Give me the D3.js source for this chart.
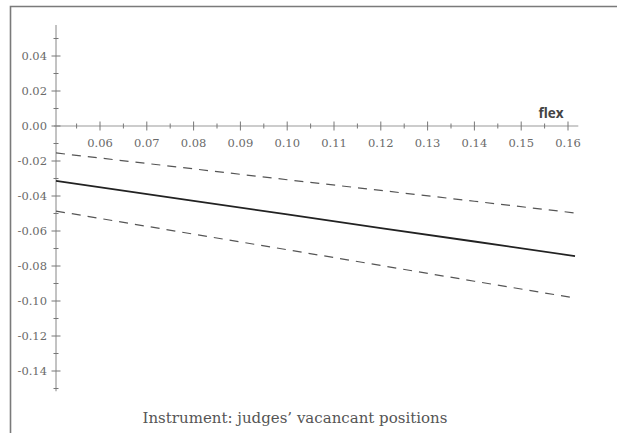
<!DOCTYPE html>
<html>
<head>
<meta charset="utf-8">
<script src="https://cdn.jsdelivr.net/npm/d3@7"></script>
<style>
  body { margin: 0; background: #fff; }
  svg { display: block; }
</style>
</head>
<body>
<div id="container"></div>
<script>
// values
var flexValues = [0.0506, 0.08, 0.10, 0.12, 0.14, 0.1615];
var estimate   = [-0.0314, -0.0428, -0.0505, -0.0583, -0.0660, -0.0743];
var upperBand  = [-0.0154, -0.0245, -0.0307, -0.0368, -0.0430, -0.0497];
var lowerBand  = [-0.0486, -0.0618, -0.0707, -0.0797, -0.0887, -0.0983];
var xTicks = [0.06, 0.07, 0.08, 0.09, 0.10, 0.11, 0.12, 0.13, 0.14, 0.15, 0.16];
var yTicks = [0.04, 0.02, 0.00, -0.02, -0.04, -0.06, -0.08, -0.10, -0.12, -0.14];
var xLabel = "flex";
var caption = "Instrument: judges\u2019 vacancant positions";

var width = 617, height = 433;

var svg = d3.select("#container")
  .append("svg")
    .attr("width", width)
    .attr("height", height);

// frame (top and left edges)
svg.append("path")
  .attr("d", "M10.5," + height + "V6.5H" + width)
  .attr("fill", "none")
  .attr("stroke", "#7a7a7a")
  .attr("stroke-width", 1.6);

// scales
var x = d3.scaleLinear().domain([0.05, 0.16]).range([53.2, 568]);
var y = d3.scaleLinear().domain([0.04, -0.14]).range([56, 371]);

var x0 = x(0.0506), y0 = y(0);

var axisColor = "#9a9a9a", tickColor = "#777";

// x axis line
svg.append("line")
  .attr("x1", x0 - 2).attr("x2", x(0.1622))
  .attr("y1", y0).attr("y2", y0)
  .attr("stroke", axisColor).attr("stroke-width", 1.2);

// y axis line
svg.append("line")
  .attr("x1", x0).attr("x2", x0)
  .attr("y1", y(0.0577)).attr("y2", y(-0.1515))
  .attr("stroke", axisColor).attr("stroke-width", 1.2);

// x ticks (minor every 0.005, major every 0.01)
svg.selectAll(".xminor")
  .data(d3.range(0.055, 0.1625, 0.01))
  .enter().append("line")
    .attr("x1", function(d){ return x(d); }).attr("x2", function(d){ return x(d); })
    .attr("y1", y0 - 2.5).attr("y2", y0 + 2.5)
    .attr("stroke", tickColor).attr("stroke-width", 1);
svg.selectAll(".xmajor")
  .data(xTicks)
  .enter().append("line")
    .attr("x1", function(d){ return x(d); }).attr("x2", function(d){ return x(d); })
    .attr("y1", y0 - 4.5).attr("y2", y0 + 4.5)
    .attr("stroke", tickColor).attr("stroke-width", 1);

// y ticks
svg.selectAll(".yminor")
  .data(d3.range(0.05, -0.155, -0.02))
  .enter().append("line")
    .attr("x1", x0 - 2.5).attr("x2", x0 + 2.5)
    .attr("y1", function(d){ return y(d); }).attr("y2", function(d){ return y(d); })
    .attr("stroke", tickColor).attr("stroke-width", 1);
svg.selectAll(".ymajor")
  .data(yTicks)
  .enter().append("line")
    .attr("x1", x0 - 4.5).attr("x2", x0 + 4.5)
    .attr("y1", function(d){ return y(d); }).attr("y2", function(d){ return y(d); })
    .attr("stroke", tickColor).attr("stroke-width", 1);

// tick labels
var fmt = d3.format(".2f");
svg.selectAll(".xlab")
  .data(xTicks)
  .enter().append("text")
    .attr("x", function(d){ return x(d); })
    .attr("y", y0 + 21)
    .attr("text-anchor", "middle")
    .attr("font-family", "DejaVu Serif")
    .attr("font-size", "11.5px")
    .attr("fill", "#6a6a6a")
    .text(function(d){ return fmt(d); });

svg.selectAll(".ylab")
  .data(yTicks)
  .enter().append("text")
    .attr("x", x0 - 9)
    .attr("y", function(d){ return y(d) + 4; })
    .attr("text-anchor", "end")
    .attr("font-family", "DejaVu Serif")
    .attr("font-size", "11.5px")
    .attr("fill", "#6a6a6a")
    .text(function(d){ return fmt(d).replace("\u2212", "-"); });

// axis name
svg.append("text")
  .attr("x", 551)
  .attr("y", y0 - 8)
  .attr("text-anchor", "middle")
  .attr("font-family", "Open Sans")
  .attr("font-weight", "bold")
  .attr("font-size", "13.5px")
  .attr("fill", "#444")
  .text(xLabel);

// lines
var line = d3.line()
  .x(function(d){ return x(d[0]); })
  .y(function(d){ return y(d[1]); });

function pairs(vals) {
  return flexValues.map(function(v, i){ return [v, vals[i]]; });
}

svg.append("path")
  .datum(pairs(upperBand))
  .attr("d", line)
  .attr("fill", "none")
  .attr("stroke", "#555")
  .attr("stroke-width", 1.2)
  .attr("stroke-dasharray", "9,7");

svg.append("path")
  .datum(pairs(lowerBand))
  .attr("d", line)
  .attr("fill", "none")
  .attr("stroke", "#555")
  .attr("stroke-width", 1.2)
  .attr("stroke-dasharray", "9,7");

svg.append("path")
  .datum(pairs(estimate))
  .attr("d", line)
  .attr("fill", "none")
  .attr("stroke", "#222")
  .attr("stroke-width", 1.8);

// caption
svg.append("text")
  .attr("x", 295)
  .attr("y", 423)
  .attr("text-anchor", "middle")
  .attr("font-family", "DejaVu Serif")
  .attr("font-size", "15px")
  .attr("fill", "#555")
  .text(caption);
</script>
</body>
</html>
